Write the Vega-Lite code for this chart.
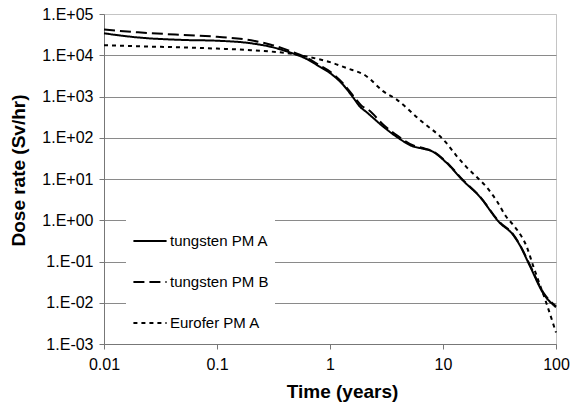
{
  "$schema": "https://vega.github.io/schema/vega-lite/v6.json",
  "width": 452,
  "height": 330,
  "autosize": {"type": "none"},
  "padding": {"left": 104, "top": 14, "right": 20, "bottom": 64},
  "background": "white",
  "config": {
    "view": {"stroke": "#c4c4c4", "strokeWidth": 1},
    "font": "Liberation Sans"
  },
  "data": {"values": [
    {"t": 0.01, "D": 34000, "s": "tungsten PM A"},
    {"t": 0.02, "D": 27000, "s": "tungsten PM A"},
    {"t": 0.05, "D": 23500, "s": "tungsten PM A"},
    {"t": 0.1, "D": 22500, "s": "tungsten PM A"},
    {"t": 0.2, "D": 19500, "s": "tungsten PM A"},
    {"t": 0.3, "D": 16000, "s": "tungsten PM A"},
    {"t": 0.45, "D": 11500, "s": "tungsten PM A"},
    {"t": 0.6, "D": 8500, "s": "tungsten PM A"},
    {"t": 0.8, "D": 5400, "s": "tungsten PM A"},
    {"t": 1.0, "D": 3700, "s": "tungsten PM A"},
    {"t": 1.3, "D": 1950, "s": "tungsten PM A"},
    {"t": 1.6, "D": 950, "s": "tungsten PM A"},
    {"t": 1.85, "D": 560, "s": "tungsten PM A"},
    {"t": 2.1, "D": 420, "s": "tungsten PM A"},
    {"t": 3.0, "D": 180, "s": "tungsten PM A"},
    {"t": 4.0, "D": 100, "s": "tungsten PM A"},
    {"t": 5.4, "D": 62, "s": "tungsten PM A"},
    {"t": 6.5, "D": 55, "s": "tungsten PM A"},
    {"t": 8.0, "D": 47, "s": "tungsten PM A"},
    {"t": 10.7, "D": 25, "s": "tungsten PM A"},
    {"t": 15, "D": 9.2, "s": "tungsten PM A"},
    {"t": 21, "D": 3.8, "s": "tungsten PM A"},
    {"t": 31.7, "D": 0.87, "s": "tungsten PM A"},
    {"t": 41.5, "D": 0.45, "s": "tungsten PM A"},
    {"t": 47, "D": 0.27, "s": "tungsten PM A"},
    {"t": 59, "D": 0.076, "s": "tungsten PM A"},
    {"t": 77, "D": 0.017, "s": "tungsten PM A"},
    {"t": 100, "D": 0.0078, "s": "tungsten PM A"},
    {"t": 0.01, "D": 42000, "s": "tungsten PM B"},
    {"t": 0.02, "D": 36000, "s": "tungsten PM B"},
    {"t": 0.05, "D": 31000, "s": "tungsten PM B"},
    {"t": 0.1, "D": 28000, "s": "tungsten PM B"},
    {"t": 0.2, "D": 23000, "s": "tungsten PM B"},
    {"t": 0.3, "D": 18000, "s": "tungsten PM B"},
    {"t": 0.45, "D": 12500, "s": "tungsten PM B"},
    {"t": 0.6, "D": 9200, "s": "tungsten PM B"},
    {"t": 0.8, "D": 5800, "s": "tungsten PM B"},
    {"t": 1.0, "D": 4000, "s": "tungsten PM B"},
    {"t": 1.3, "D": 2100, "s": "tungsten PM B"},
    {"t": 1.6, "D": 1050, "s": "tungsten PM B"},
    {"t": 1.9, "D": 600, "s": "tungsten PM B"},
    {"t": 2.2, "D": 470, "s": "tungsten PM B"},
    {"t": 3.0, "D": 200, "s": "tungsten PM B"},
    {"t": 4.0, "D": 110, "s": "tungsten PM B"},
    {"t": 5.4, "D": 66, "s": "tungsten PM B"},
    {"t": 6.5, "D": 57, "s": "tungsten PM B"},
    {"t": 8.0, "D": 48, "s": "tungsten PM B"},
    {"t": 10.7, "D": 26, "s": "tungsten PM B"},
    {"t": 15, "D": 9.5, "s": "tungsten PM B"},
    {"t": 21, "D": 3.9, "s": "tungsten PM B"},
    {"t": 31.7, "D": 0.9, "s": "tungsten PM B"},
    {"t": 41.5, "D": 0.47, "s": "tungsten PM B"},
    {"t": 47, "D": 0.28, "s": "tungsten PM B"},
    {"t": 59, "D": 0.08, "s": "tungsten PM B"},
    {"t": 77, "D": 0.018, "s": "tungsten PM B"},
    {"t": 100, "D": 0.0082, "s": "tungsten PM B"},
    {"t": 0.01, "D": 17500, "s": "Eurofer PM A"},
    {"t": 0.02, "D": 16500, "s": "Eurofer PM A"},
    {"t": 0.05, "D": 15500, "s": "Eurofer PM A"},
    {"t": 0.1, "D": 14500, "s": "Eurofer PM A"},
    {"t": 0.2, "D": 13300, "s": "Eurofer PM A"},
    {"t": 0.3, "D": 12300, "s": "Eurofer PM A"},
    {"t": 0.44, "D": 11000, "s": "Eurofer PM A"},
    {"t": 0.6, "D": 9500, "s": "Eurofer PM A"},
    {"t": 0.8, "D": 8000, "s": "Eurofer PM A"},
    {"t": 1.0, "D": 6800, "s": "Eurofer PM A"},
    {"t": 1.4, "D": 4900, "s": "Eurofer PM A"},
    {"t": 2.1, "D": 3100, "s": "Eurofer PM A"},
    {"t": 2.95, "D": 1350, "s": "Eurofer PM A"},
    {"t": 3.9, "D": 840, "s": "Eurofer PM A"},
    {"t": 6.2, "D": 275, "s": "Eurofer PM A"},
    {"t": 10.7, "D": 75, "s": "Eurofer PM A"},
    {"t": 13, "D": 38, "s": "Eurofer PM A"},
    {"t": 16, "D": 20, "s": "Eurofer PM A"},
    {"t": 20, "D": 11, "s": "Eurofer PM A"},
    {"t": 24, "D": 6.6, "s": "Eurofer PM A"},
    {"t": 30, "D": 2.9, "s": "Eurofer PM A"},
    {"t": 36, "D": 1.25, "s": "Eurofer PM A"},
    {"t": 41.5, "D": 0.79, "s": "Eurofer PM A"},
    {"t": 46, "D": 0.55, "s": "Eurofer PM A"},
    {"t": 55, "D": 0.23, "s": "Eurofer PM A"},
    {"t": 63, "D": 0.076, "s": "Eurofer PM A"},
    {"t": 82, "D": 0.01, "s": "Eurofer PM A"},
    {"t": 100, "D": 0.0019, "s": "Eurofer PM A"}
  ]},
  "mark": {"type": "line", "color": "black", "strokeWidth": 2, "interpolate": "monotone"},
  "encoding": {
    "x": {
      "field": "t", "type": "quantitative",
      "scale": {"type": "log", "domain": [0.01, 100], "nice": false},
      "axis": {
        "title": "Time (years)",
        "values": [0.01, 0.1, 1, 10, 100],
        "labelExpr": "datum.value >= 1 ? format(datum.value, 'd') : format(datum.value, '.2~f')",
        "labelFlush": false,
        "labelOverlap": false,
        "grid": false,
        "domainColor": "#777777",
        "tickColor": "#777777",
        "tickSize": 5,
        "labelPadding": 7,
        "labelFontSize": 16,
        "labelColor": "black",
        "labelFont": "Liberation Sans",
        "titleFont": "Liberation Sans",
        "titleFontSize": 19,
        "titleFontWeight": "bold",
        "titleColor": "black",
        "titleBaseline": "top",
        "titleY": 38,
        "titleX": 238,
        "titleAlign": "center"
      }
    },
    "y": {
      "field": "D", "type": "quantitative",
      "scale": {"type": "log", "domain": [0.001, 100000], "nice": false},
      "axis": {
        "title": "Dose rate (Sv/hr)",
        "values": [0.001, 0.01, 0.1, 1, 10, 100, 1000, 10000, 100000],
        "labelExpr": "'1.E' + (datum.value >= 1 ? '+' : '-') + '0' + toString(round(abs(log(datum.value) / LN10)))",
        "labelFlush": false,
        "labelOverlap": false,
        "grid": true,
        "gridColor": {"condition": {"test": "datum.value >= 100000", "value": "#c4c4c4"}, "value": "#8a8a8a"},
        "gridWidth": 1.2,
        "domainColor": "#777777",
        "tickColor": "#777777",
        "tickSize": 5,
        "labelPadding": 6,
        "labelFontSize": 16,
        "labelColor": "black",
        "labelFont": "Liberation Sans",
        "titleFont": "Liberation Sans",
        "titleFontSize": 19,
        "titleFontWeight": "bold",
        "titleColor": "black",
        "titleAngle": 270,
        "titleX": -86,
        "titleY": 156,
        "titleAlign": "center",
        "titleBaseline": "middle"
      }
    },
    "strokeDash": {
      "field": "s", "type": "nominal",
      "scale": {
        "domain": ["tungsten PM A", "tungsten PM B", "Eurofer PM A"],
        "range": [[1, 0], [11, 5], [4, 4]]
      },
      "legend": {
        "title": null,
        "orient": "none",
        "legendX": 22,
        "legendY": 203,
        "fillColor": "white",
        "padding": 6,
        "symbolType": "stroke",
        "symbolSize": 1100,
        "symbolStrokeWidth": 2,
        "symbolStrokeColor": "black",
        "labelFont": "Liberation Sans",
        "labelFontSize": 15,
        "labelColor": "black",
        "labelOffset": 2,
        "rowPadding": 15
      }
    }
  }
}
